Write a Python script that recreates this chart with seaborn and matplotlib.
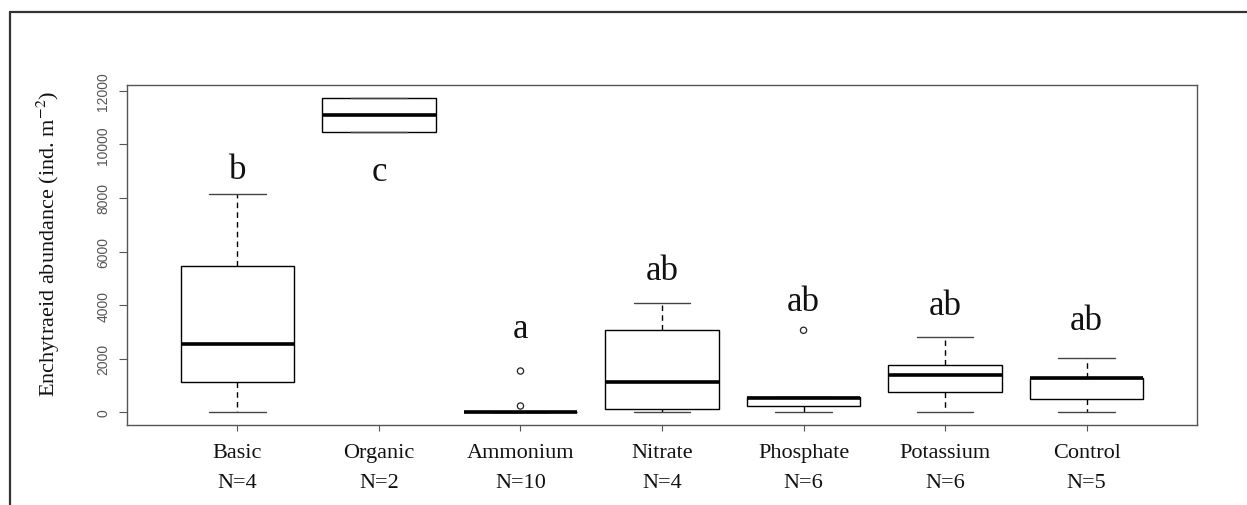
"""
Enchytraeid abundance per fertiliser treatment - R style boxplot redrawn with seaborn
"""
import matplotlib
matplotlib.use("Agg")
import matplotlib.pyplot as plt
import matplotlib.lines as mlines
from matplotlib.collections import PathCollection
import pandas as pd
import seaborn as sns

# Box statistics (ind. m-2)
treatments = ["Basic", "Organic", "Ammonium", "Nitrate", "Phosphate", "Potassium", "Control"]
n_plots = [4, 2, 10, 4, 6, 6, 5]
whisker_low = [0, 10460, 0, 0, 0, 0, 0]
quart_low = [1145, 10460, 0, 140, 235, 745, 510]
medians = [2540, 11090, 0, 1130, 520, 1390, 1270]
quart_high = [5460, 11720, 0, 3060, 560, 1765, 1270]
whisker_high = [8135, 11720, 0, 4095, 560, 2810, 2025]

# Outliers
outlier_group = ["Ammonium", "Ammonium", "Phosphate"]
outlier_value = [235, 1540, 3060]

# Significance letters and their baseline height
letters = ["b", "c", "a", "ab", "ab", "ab", "ab"]
letter_y = [8760, 8650, 2825, 4990, 3820, 3660, 3120]

SERIF = "Liberation Serif"
SANS = "Liberation Sans"

sns.set_style("white")
plt.rcParams["font.family"] = [SERIF, "DejaVu Serif"]
plt.rcParams["mathtext.fontset"] = "stix"

# five-number rows per treatment -> linear quartiles land exactly on the read values
rows = []
for i, t in enumerate(treatments):
    for v in (whisker_low[i], quart_low[i], medians[i], quart_high[i], whisker_high[i]):
        rows.append({"treatment": t, "abundance": v})
df = pd.DataFrame(rows)
out_df = pd.DataFrame({"treatment": outlier_group, "abundance": outlier_value})

fig = plt.figure(figsize=(12.47, 5.06), dpi=100)
ax = fig.add_axes([127 / 1247, 1 - 425.7 / 506, 1070 / 1247, 339.7 / 506])

sns.boxplot(data=df, x="treatment", y="abundance", order=treatments,
            width=0.8, color="white", linecolor="black", linewidth=1,
            showfliers=False, saturation=1,
            whiskerprops=dict(linestyle=(0, (4, 3)), color="black"),
            capprops=dict(color="#444444"),
            medianprops=dict(linewidth=2.6, color="black"),
            ax=ax)

sns.stripplot(data=out_df, x="treatment", y="abundance", order=treatments,
              jitter=False, size=4.5, marker="o", color="black",
              edgecolor="black", linewidth=0.9, ax=ax)
# open circles like R
for coll in ax.collections:
    if isinstance(coll, PathCollection):
        coll.set_facecolor("none")
        coll.set_edgecolor("#222222")

# letters above boxes
for i, lab in enumerate(letters):
    ax.text(i, letter_y[i], lab, ha="center", va="baseline",
            fontsize=25, family=SERIF, color="#111111")

ax.set_xlim(-0.78, 6.78)
ax.set_ylim(-463, 12213)

ax.set_yticks(range(0, 12001, 2000))
ax.set_yticklabels([str(v) for v in range(0, 12001, 2000)],
                   rotation=90, va="center", family=SANS, color="#555555", fontsize=10)
ax.set_xticks(range(len(treatments)))
ax.set_xticklabels([f"{t}\nN={n}" for t, n in zip(treatments, n_plots)],
                   family=SERIF, fontsize=16, linespacing=1.75, color="#111111")

ax.tick_params(axis="y", length=6, width=0.8, color="#555555", pad=6, left=True)
ax.tick_params(axis="x", length=4.5, width=0.8, color="#555555", pad=9, bottom=True)

for sp in ax.spines.values():
    sp.set_visible(True)
    sp.set_color("#555555")
    sp.set_linewidth(1)

ax.set_xlabel("")
ax.set_ylabel("Enchytraeid abundance (ind. m$^{-2}$)", family=SERIF, fontsize=16,
              color="#111111")
ax.yaxis.set_label_coords(-0.0607, 0.535)

# outer frame (left and top edges of the original figure panel)
fig.add_artist(mlines.Line2D([10 / 1247, 10 / 1247], [0, 1 - 13 / 506],
                             transform=fig.transFigure, color="#333333", lw=1.6))
fig.add_artist(mlines.Line2D([10 / 1247, 1], [1 - 13 / 506, 1 - 13 / 506],
                             transform=fig.transFigure, color="#333333", lw=1.6))

fig.savefig("out.png", dpi=100, facecolor="white")
